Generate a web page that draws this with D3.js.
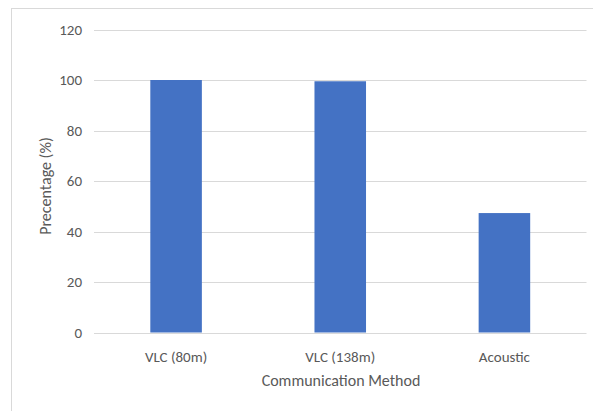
<!DOCTYPE html>
<html lang="en">
<head>
<meta charset="utf-8">
<title>Precentage by Communication Method</title>
<script src="https://d3js.org/d3.v7.min.js"></script>
<style>
  html, body { margin: 0; padding: 0; background: #fff; }
  svg text { font-family: Calibri, Carlito, Lato, sans-serif; fill: #595959; }
</style>
</head>
<body>
<div id="chart"></div>
<script>
// data
var categories = ["VLC (80m)", "VLC (138m)", "Acoustic"];
var values = [100, 99.5, 47.3];
var yTicks = [0, 20, 40, 60, 80, 100, 120];

var width = 593, height = 411;
var margin = {top: 29.5, right: 6.5, bottom: 78.5, left: 94};

var svg = d3.select("#chart").append("svg")
    .attr("width", width)
    .attr("height", height);

// chart frame (only top and left edges fall inside the picture)
svg.append("rect")
    .attr("x", 11.5).attr("y", 8.5)
    .attr("width", 640).attr("height", 440)
    .attr("fill", "none")
    .attr("stroke", "#d9d9d9");

var x = d3.scaleBand()
    .domain(categories)
    .range([margin.left, width - margin.right])
    .paddingInner(0.686)
    .paddingOuter(0.343);

var y = d3.scaleLinear()
    .domain([0, 120])
    .range([height - margin.bottom, margin.top]);

// gridlines
svg.append("g")
    .selectAll("line")
    .data(yTicks)
    .enter().append("line")
    .attr("x1", margin.left)
    .attr("x2", width - margin.right)
    .attr("y1", function(d) { return Math.round(y(d)) + 0.5; })
    .attr("y2", function(d) { return Math.round(y(d)) + 0.5; })
    .attr("stroke", "#d9d9d9")
    .attr("stroke-width", 1);

// y tick labels
var yAxis = svg.append("g")
    .attr("transform", "translate(" + margin.left + ",0)")
    .call(d3.axisLeft(y).tickValues(yTicks).tickSize(0).tickPadding(12));
yAxis.select(".domain").remove();
yAxis.selectAll("text")
    .style("font-size", "15px")
    .attr("fill", "#595959");

// bars
svg.append("g")
    .selectAll("rect")
    .data(values)
    .enter().append("rect")
    .attr("x", function(d, i) { return x(categories[i]); })
    .attr("width", x.bandwidth())
    .attr("y", function(d) { return y(d); })
    .attr("height", function(d) { return y(0) - y(d); })
    .attr("fill", "#4472c4");

// x category labels
var xAxis = svg.append("g")
    .attr("transform", "translate(0," + (height - margin.bottom) + ")")
    .call(d3.axisBottom(x).tickSize(0).tickPadding(19));
xAxis.select(".domain").remove();
xAxis.selectAll("text")
    .style("font-size", "15px")
    .attr("fill", "#595959");

// axis titles
svg.append("text")
    .attr("x", 341)
    .attr("y", 386)
    .attr("text-anchor", "middle")
    .style("font-size", "16px")
    .text("Communication Method");

svg.append("text")
    .attr("transform", "translate(51,186) rotate(-90)")
    .attr("text-anchor", "middle")
    .style("font-size", "16px")
    .text("Precentage (%)");
</script>
</body>
</html>
